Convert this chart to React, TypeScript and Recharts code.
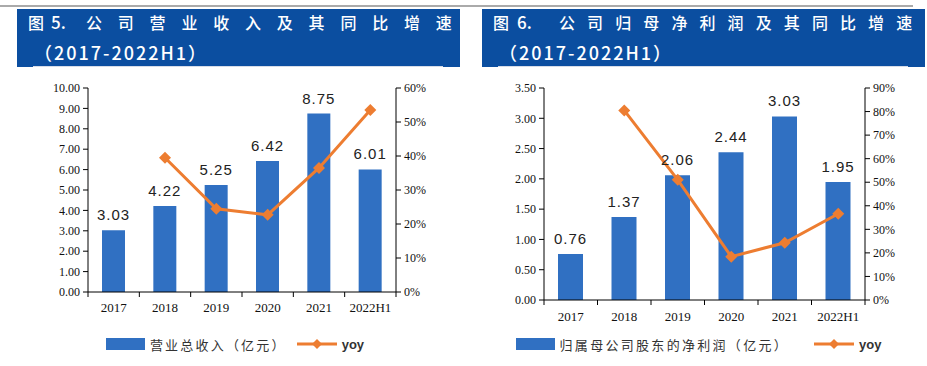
import { ComposedChart, Bar, Line, XAxis, YAxis, LabelList, Legend } from "recharts"

const years = ["2017", "2018", "2019", "2020", "2021", "2022H1"]
const revenue = [3.03, 4.22, 5.25, 6.42, 8.75, 6.01]
const revenueYoy = [null, 0.395, 0.245, 0.227, 0.365, 0.535]
const profit = [0.76, 1.37, 2.06, 2.44, 3.03, 1.95]
const profitYoy = [null, 0.805, 0.51, 0.184, 0.243, 0.366]

const revenueTicks = [0, 1, 2, 3, 4, 5, 6, 7, 8, 9, 10]
const revenuePctTicks = [0, 0.1, 0.2, 0.3, 0.4, 0.5, 0.6]
const profitTicks = [0, 0.5, 1, 1.5, 2, 2.5, 3, 3.5]
const profitPctTicks = [0, 0.1, 0.2, 0.3, 0.4, 0.5, 0.6, 0.7, 0.8, 0.9]

const BLUE = "#3070C2"
const ORANGE = "#ED7D31"
const SERIF = "'Liberation Serif', 'Times New Roman', serif"
const CJK = "'Noto Sans CJK SC', sans-serif"

const Diamond = (p: any) => {
    const { cx, cy } = p
    if (cx == null || cy == null || isNaN(cy)) return <g key={p.index} />
    const r = 6
    return (
        <path
            key={p.index}
            d={`M${cx},${cy - r}L${cx + r},${cy}L${cx},${cy + r}L${cx - r},${cy}Z`}
            fill={ORANGE}
        />
    )
}

const makeTick = (band: number, count: number, gap: number) => (p: any) => {
    const { x, y, payload, index } = p
    return (
        <g>
            <line x1={x - band / 2} x2={x - band / 2} y1={y} y2={y + 5} stroke="#000" />
            {index === count - 1 && (
                <line x1={x + band / 2} x2={x + band / 2} y1={y} y2={y + 5} stroke="#000" />
            )}
            <text x={x} y={y + gap + 4.5} textAnchor="middle" fontFamily={SERIF} fontSize={13} fill="#111">
                {payload.value}
            </text>
        </g>
    )
}

function LegendBox({ name, spacing, gap }: { name: string; spacing: number; gap: number }) {
    return (
        <div style={{ height: 44, display: "flex", alignItems: "center", justifyContent: "center" }}>
            <div style={{ width: 39, height: 12, background: BLUE }} />
            <span style={{ fontFamily: CJK, fontSize: 13, letterSpacing: spacing, color: "#333", marginLeft: 5 }}>
                {name}
            </span>
            <svg width={40} height={12} style={{ marginLeft: gap }}>
                <line x1={0} x2={40} y1={6} y2={6} stroke={ORANGE} strokeWidth={3} />
                <path d="M20,1L25,6L20,11L15,6Z" fill={ORANGE} />
            </svg>
            <span style={{ fontFamily: "'Liberation Sans', Arial, sans-serif", fontWeight: 700, fontSize: 13, color: "#333", marginLeft: 5 }}>
                yoy
            </span>
        </div>
    )
}

type BannerProps = { left: number; num: string; numLeft: number; title: string; titleLeft: number; spacing: number }

function Banner({ left, num, numLeft, title, titleLeft, spacing }: BannerProps) {
    const line: React.CSSProperties = { position: "absolute", top: 0, height: 26, lineHeight: "26px", whiteSpace: "nowrap" }
    return (
        <div
            style={{
                position: "absolute",
                left,
                top: 9,
                width: 443,
                height: 58,
                background: "#0B4EA0",
                color: "#fff",
                fontFamily: CJK,
                fontWeight: 500,
                fontSize: 16,
            }}
        >
            <span style={{ ...line, left: 11 }}>图</span>
            <span style={{ ...line, left: numLeft, fontSize: 17 }}>{num}</span>
            <span style={{ ...line, left: titleLeft, letterSpacing: spacing }}>{title}</span>
            <span style={{ ...line, top: 30, left: 17, fontSize: 18, letterSpacing: 2 }}>（2017-2022H1）</span>
            <div style={{ position: "absolute", left: 16, right: 17, bottom: 0, height: 1, background: "#d6dce8" }} />
        </div>
    )
}

type ChartProps = {
    values: number[]
    yoy: (number | null)[]
    ticks: number[]
    pctTicks: number[]
    name: string
    width: number
    leftW: number
    rightW: number
    xH: number
    barSize: number
    spacing: number
    gap: number
}

function DualChart(p: ChartProps) {
    const data = years.map((y, i) => ({ year: y, value: p.values[i], yoy: p.yoy[i] }))
    const band = (p.width - p.leftW - p.rightW) / years.length
    return (
        <ComposedChart width={p.width} height={291} data={data} margin={{ top: 13, right: 0, left: 0, bottom: 0 }}>
            <XAxis
                dataKey="year"
                height={p.xH}
                tickSize={0}
                tickMargin={0}
                stroke="#000"
                tick={makeTick(band, years.length, p.xH === 30 ? 15 : 16)}
                interval={0}
            />
            <YAxis
                yAxisId="l"
                width={p.leftW}
                domain={[p.ticks[0], p.ticks[p.ticks.length - 1]]}
                ticks={p.ticks}
                interval={0}
                tickFormatter={(v: number) => v.toFixed(2)}
                stroke="#000"
                tickSize={5}
                tickMargin={3}
                tick={{ fontFamily: SERIF, fontSize: 12, fill: "#111" }}
            />
            <YAxis
                yAxisId="r"
                orientation="right"
                width={p.rightW}
                domain={[0, p.pctTicks[p.pctTicks.length - 1]]}
                ticks={p.pctTicks}
                interval={0}
                tickFormatter={(v: number) => `${Math.round(v * 100)}%`}
                stroke="#000"
                tickSize={5}
                tickMargin={3}
                tick={{ fontFamily: SERIF, fontSize: 12, fill: "#111" }}
            />
            <Bar yAxisId="l" dataKey="value" fill={BLUE} barSize={p.barSize} isAnimationActive={false}>
                <LabelList
                    dataKey="value"
                    position="top"
                    offset={10}
                    formatter={(v: any) => Number(v).toFixed(2)}
                    style={{ fontFamily: "'Liberation Sans', Arial, sans-serif", fontSize: 15, fill: "#222", letterSpacing: 1 }}
                />
            </Bar>
            <Line
                yAxisId="r"
                dataKey="yoy"
                stroke={ORANGE}
                strokeWidth={3}
                dot={Diamond}
                activeDot={false}
                isAnimationActive={false}
            />
            <Legend
                verticalAlign="bottom"
                height={44}
                content={() => <LegendBox name={p.name} spacing={p.spacing} gap={p.gap} />}
            />
        </ComposedChart>
    )
}

export default function App() {
    return (
        <div style={{ position: "absolute", left: 0, top: 0, width: 927, height: 366, background: "#fff", overflow: "hidden" }}>
            <div style={{ position: "absolute", left: 0, top: 5, width: 913, height: 2, background: "#aaa" }} />
            <Banner left={17} num="5." numLeft={34} title="公司营业收入及其同比增速" titleLeft={69} spacing={15.8} />
            <Banner left={482} num="6." numLeft={35} title="公司归母净利润及其同比增速" titleLeft={77} spacing={12.1} />
            <div style={{ position: "absolute", left: 0, top: 75 }}>
                <DualChart
                    values={revenue}
                    yoy={revenueYoy}
                    ticks={revenueTicks}
                    pctTicks={revenuePctTicks}
                    name="营业总收入（亿元）"
                    width={470}
                    leftW={88}
                    rightW={74}
                    xH={30}
                    barSize={23}
                    spacing={2.2}
                    gap={10}
                />
            </div>
            <div style={{ position: "absolute", left: 470, top: 75 }}>
                <DualChart
                    values={profit}
                    yoy={profitYoy}
                    ticks={profitTicks}
                    pctTicks={profitPctTicks}
                    name="归属母公司股东的净利润（亿元）"
                    width={457}
                    leftW={74}
                    rightW={62}
                    xH={22}
                    barSize={25}
                    spacing={2.3}
                    gap={25}
                />
            </div>
        </div>
    )
}
